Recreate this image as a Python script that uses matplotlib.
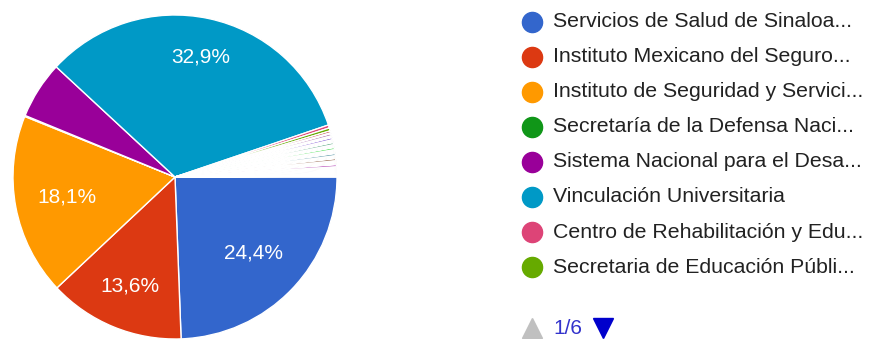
import numpy as np
import matplotlib
matplotlib.use('Agg')
import matplotlib.pyplot as plt
from matplotlib.lines import Line2D

# Named categories shown on the first legend page
names = ['Servicios de Salud de Sinaloa...',
         'Instituto Mexicano del Seguro...',
         'Instituto de Seguridad y Servici...',
         'Secretaría de la Defensa Naci...',
         'Sistema Nacional para el Desa...',
         'Vinculación Universitaria',
         'Centro de Rehabilitación y Edu...',
         'Secretaria de Educación Públi...']
values = [24.4, 13.6, 18.1, 0.1, 5.7, 32.9, 0.3, 0.3]
# the remaining tiny answers (other legend pages)
other_values = [0.2, 0.1, 0.2, 0.1, 0.1, 0.2, 0.1, 0.1, 0.1, 0.2,
                0.1, 0.1, 0.1, 0.2, 0.1, 0.1, 0.1, 0.1, 0.2, 0.1,
                0.1, 0.1, 0.2, 0.1, 0.1, 0.1, 0.1, 0.2, 0.1, 0.1,
                0.1, 0.1, 0.1, 0.1, 0.1, 0.1, 0.1, 0.1]
pct_labels = ['24,4%', '13,6%', '18,1%', '', '', '32,9%', '', '']

# Google charts palette
palette = ['#3366cc', '#dc3912', '#ff9900', '#109618', '#990099', '#0099c6',
           '#dd4477', '#66aa00', '#b82e2e', '#316395', '#994499', '#22aa99',
           '#aaaa11', '#6633cc', '#e67300', '#8b0707', '#651067', '#329262',
           '#5574a6', '#3b3eac', '#b77322', '#16d620', '#b91383', '#f4359e',
           '#9c5935', '#a9c413', '#2a778d', '#668d1c', '#bea413', '#0c5922',
           '#743411']

plt.rcParams['font.family'] = ['Liberation Sans', 'DejaVu Sans']

W, H = 875, 339
fig = plt.figure(figsize=(W / 100, H / 100), dpi=100)

# pie axes: center (175,177) px, radius 162 px
cx, cy, R = 175, 177, 162
ax = fig.add_axes([(cx - R) / W, (H - cy - R) / H, 2 * R / W, 2 * R / H])

all_values = values + other_values
colors = [palette[i % len(palette)] for i in range(len(all_values))]
wedges, _ = ax.pie(all_values, colors=colors, startangle=0, counterclock=False,
                   wedgeprops=dict(edgecolor='white', linewidth=1.0))
ax.set_xlim(-1, 1)
ax.set_ylim(-1, 1)
ax.set_aspect('equal')
ax.axis('off')

# percentage labels inside the big slices
label_r = [0.675, 0.73, 0.68, 0, 0, 0.76, 0, 0]
for w, lab, r in zip(wedges, pct_labels, label_r):
    if not lab:
        continue
    mid = np.deg2rad((w.theta1 + w.theta2) / 2)
    ax.text(r * np.cos(mid), r * np.sin(mid), lab, color='white',
            fontsize=15, ha='center', va='center')

# legend (first page)
x_dot, x_txt, y0, dy = 532, 553, 21.5, 35.1
for i, name in enumerate(names):
    y = 1 - (y0 + i * dy) / H
    fig.add_artist(Line2D([x_dot / W], [y], marker='o', markersize=14.5,
                          color=palette[i], linestyle='none'))
    fig.text(x_txt / W, y, name, fontsize=15.3, color='#222222',
             ha='left', va='center')

# pagination
yp = 1 - 328 / H
fig.add_artist(Line2D([532 / W], [yp], marker='^', markersize=14,
                      color='#c0c0c0', linestyle='none'))
fig.text(553 / W, yp, '1/6', fontsize=15, color='#3333cc', ha='left', va='center')
fig.add_artist(Line2D([603 / W], [yp], marker='v', markersize=14,
                      color='#0000cc', linestyle='none'))

fig.savefig('out.png', dpi=100)
